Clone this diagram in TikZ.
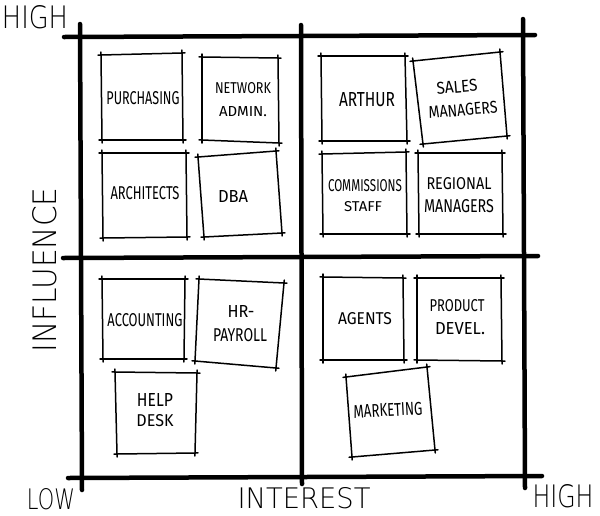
\documentclass[tikz,border=0pt]{standalone}
\usepackage{fontspec}
\usepackage{graphicx}
\newfontfamily\cardfont{Fira Sans}
\newfontfamily\axisfont{DejaVu Sans ExtraLight}
% a line of text stretched to a given width and cap height (in pt)
\newcommand\hw[3]{\resizebox{#1pt}{#2pt}{#3}}
\tikzset{
  axisline/.style={line width=4.5pt, line cap=round},
  cardedge/.style={line width=1.5pt, line cap=round, shorten <=-3pt, shorten >=-3pt},
  cardtext/.style={inner sep=0pt, font=\cardfont},
  axislabel/.style={inner sep=0pt, font=\axisfont},
}
% a hand-drawn card: name, then its corners top-left, top-right, bottom-right, bottom-left
\newcommand\notecard[5]{%
  \coordinate (#1-tl) at (#2);
  \coordinate (#1-tr) at (#3);
  \coordinate (#1-br) at (#4);
  \coordinate (#1-bl) at (#5);
  \draw[cardedge] (#1-tl) -- (#1-tr);
  \draw[cardedge] (#1-tr) -- (#1-br);
  \draw[cardedge] (#1-br) -- (#1-bl);
  \draw[cardedge] (#1-bl) -- (#1-tl);
}
\begin{document}
\begin{tikzpicture}[x=1pt, y=-1pt]
\useasboundingbox (0,0) rectangle (600,515);

% grid of the four quadrants
\coordinate (top-w) at (64,37);   \coordinate (top-e) at (535,35);
\coordinate (mid-w) at (63,258);  \coordinate (mid-e) at (538,256);
\coordinate (bot-w) at (68,478);  \coordinate (bot-e) at (542,476);
\coordinate (left-n) at (80,24);  \coordinate (left-s) at (82,490);
\coordinate (cen-n) at (301,25);  \coordinate (cen-s) at (302,484);
\coordinate (right-n) at (523,19); \coordinate (right-s) at (525,488);
\draw[axisline] (top-w) -- (top-e);
\draw[axisline] (mid-w) -- (mid-e);
\draw[axisline] (bot-w) -- (bot-e);
\draw[axisline] (left-n) -- (left-s);
\draw[axisline] (cen-n) -- (cen-s);
\draw[axisline] (right-n) -- (right-s);

% axis labels
\node[axislabel] (yhigh) at (35,17) {\hw{66}{23}{HIGH}};
\node[axislabel, rotate=90] (influence) at (45,270) {\hw{165}{24}{INFLUENCE}};
\node[axislabel] (xlow) at (51,499) {\hw{48}{21}{LOW}};
\node[axislabel] (interest) at (304,498) {\hw{133}{21}{INTEREST}};
\node[axislabel] (xhigh) at (563,496) {\hw{61}{23}{HIGH}};

% high influence, low interest
\notecard{purch}{101,55}{182,53}{183,140}{102,140}
\node[cardtext] (purch-t) at (143,98) {\hw{73}{13}{PURCHASING}};
\notecard{netadm}{202,57}{278,58}{279,143}{202,140}
\node[cardtext] (netadm-t1) at (243,88) {\hw{56}{11}{NETWORK}};
\node[cardtext] (netadm-t2) at (243,112) {\hw{48}{10}{ADMIN.}};
\notecard{arch}{102,153}{186,153}{187,237}{103,238}
\node[cardtext] (arch-t) at (145,193) {\hw{69}{13}{ARCHITECTS}};
\notecard{dba}{198,157}{276,151}{282,233}{204,237}
\node[cardtext] (dba-t) at (233,196) {\hw{30}{12}{DBA}};

% high influence, high interest
\notecard{arthur}{321,56}{405,56}{407,141}{322,141}
\node[cardtext] (arthur-t) at (367,100) {\hw{56}{14}{ARTHUR}};
\notecard{sales}{413,61}{500,52}{507,136}{423,144}
\node[cardtext, rotate=5] (sales-t1) at (457,87) {\hw{41}{12}{SALES}};
\node[cardtext, rotate=5] (sales-t2) at (463,110) {\hw{69}{12}{MANAGERS}};
\notecard{comm}{322,154}{406,152}{407,234}{323,234}
\node[cardtext] (comm-t1) at (365,186) {\hw{74}{12}{COMMISSIONS}};
\node[cardtext] (comm-t2) at (363,207) {\hw{38}{10}{STAFF}};
\notecard{region}{418,153}{502,153}{503,234}{419,234}
\node[cardtext] (region-t1) at (459,184) {\hw{65}{12}{REGIONAL}};
\node[cardtext] (region-t2) at (459,206) {\hw{70}{13}{MANAGERS}};

% low influence, low interest
\notecard{acct}{102,279}{185,279}{184,359}{103,359}
\node[cardtext] (acct-t) at (145,320) {\hw{75}{13}{ACCOUNTING}};
\notecard{hr}{199,279}{284,283}{276,368}{195,361}
\node[cardtext] (hr-t1) at (241,311) {\hw{27}{12}{HR-}};
\node[cardtext] (hr-t2) at (240,335) {\hw{54}{13}{PAYROLL}};
\notecard{help}{115,372}{197,373}{195,453}{117,454}
\node[cardtext] (help-t1) at (155,400) {\hw{36}{13}{HELP}};
\node[cardtext] (help-t2) at (155,421) {\hw{37}{12}{DESK}};

% low influence, high interest
\notecard{agents}{323,277}{403,278}{404,360}{323,360}
\node[cardtext] (agents-t) at (365,319) {\hw{54}{12}{AGENTS}};
\notecard{prod}{417,278}{501,278}{502,361}{417,360}
\node[cardtext] (prod-t1) at (457,306) {\hw{55}{12}{PRODUCT}};
\node[cardtext] (prod-t2) at (460,329) {\hw{50}{12}{DEVEL.}};
\notecard{mkt}{346,377}{427,367}{435,450}{352,457}
\node[cardtext, rotate=3] (mkt-t) at (388,410) {\hw{69}{13}{MARKETING}};
\end{tikzpicture}
\end{document}
